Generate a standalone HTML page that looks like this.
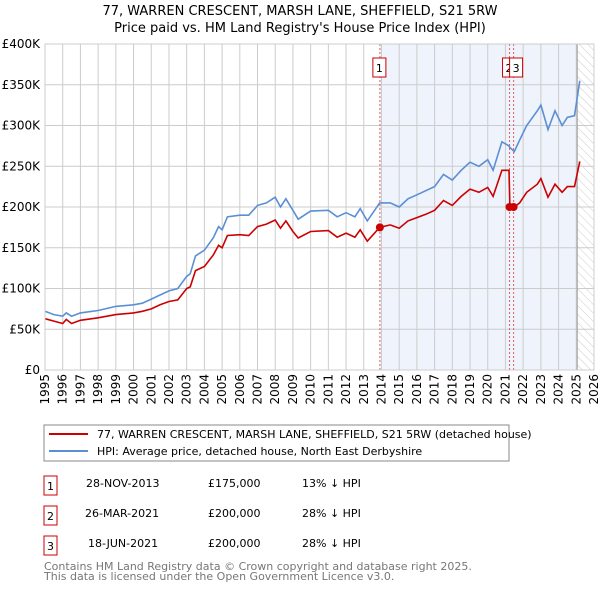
<!DOCTYPE html>
<html><head><meta charset="utf-8"><style>
body{margin:0;background:#fff;font-family:"DejaVu Sans","Liberation Sans",sans-serif;}
svg text{font-family:"DejaVu Sans","Liberation Sans",sans-serif;}
</style></head><body>
<svg id="chart" width="600" height="590" viewBox="0 0 600 590" xmlns="http://www.w3.org/2000/svg">
<defs><pattern id="hatch" width="6" height="6" patternUnits="userSpaceOnUse" patternTransform="rotate(-45)"><line x1="0" y1="0" x2="0" y2="6" stroke="#ccc" stroke-width="1"/></pattern></defs>
<text x="300" y="15" text-anchor="middle" font-size="13">77, WARREN CRESCENT, MARSH LANE, SHEFFIELD, S21 5RW</text>
<text x="300" y="32" text-anchor="middle" font-size="13">Price paid vs. HM Land Registry's House Price Index (HPI)</text>
<g id="plot"></g>
<rect x="44" y="425" width="465" height="36" fill="#fff" stroke="#888"/>
<line x1="49" y1="434" x2="88" y2="434" stroke="#cc0000" stroke-width="2"/>
<text x="97" y="438" font-size="11">77, WARREN CRESCENT, MARSH LANE, SHEFFIELD, S21 5RW (detached house)</text>
<line x1="49" y1="451" x2="88" y2="451" stroke="#5b8fd4" stroke-width="2"/>
<text x="97" y="455" font-size="11">HPI: Average price, detached house, North East Derbyshire</text>
<g font-size="11">
<rect x="44" y="476" width="13" height="19" fill="none" stroke="#cc0000"/><text x="50.5" y="490" text-anchor="middle">1</text>
<text x="86" y="487">28-NOV-2013</text><text x="208" y="487">£175,000</text><text x="302" y="487">13% ↓ HPI</text>
<rect x="44" y="506" width="13" height="19" fill="none" stroke="#cc0000"/><text x="50.5" y="520" text-anchor="middle">2</text>
<text x="85" y="517">26-MAR-2021</text><text x="208" y="517">£200,000</text><text x="302" y="517">28% ↓ HPI</text>
<rect x="44" y="536" width="13" height="19" fill="none" stroke="#cc0000"/><text x="50.5" y="550" text-anchor="middle">3</text>
<text x="88" y="547">18-JUN-2021</text><text x="208" y="547">£200,000</text><text x="302" y="547">28% ↓ HPI</text>
</g>
<text x="44" y="570" font-size="11" fill="#777">Contains HM Land Registry data © Crown copyright and database right 2025.</text>
<text x="44" y="580" font-size="11" fill="#777">This data is licensed under the Open Government Licence v3.0.</text>
</svg>
<script>
const dates=[1995.0,1995.5,1996.0,1996.2,1996.5,1997.0,1998.0,1999.0,2000.0,2000.5,2001.0,2001.5,2002.0,2002.5,2003.0,2003.2,2003.5,2004.0,2004.5,2004.8,2005.0,2005.3,2006.0,2006.5,2007.0,2007.5,2008.0,2008.3,2008.6,2009.0,2009.3,2010.0,2011.0,2011.5,2012.0,2012.5,2012.8,2013.2,2013.9,2014.5,2015.0,2015.5,2016.0,2016.5,2017.0,2017.5,2018.0,2018.5,2019.0,2019.5,2020.0,2020.3,2020.8,2021.2,2021.25,2021.5,2021.8,2022.2,2022.8,2023.0,2023.4,2023.8,2024.2,2024.5,2024.9,2025.2];
const hpi=[72,68,66,70,66,70,73,78,80,82,87,92,97,100,115,118,140,147,162,176,172,188,190,190,202,205,212,200,210,196,185,195,196,188,193,188,198,183,205,205,200,210,215,220,225,240,233,245,255,250,258,245,280,275,273,268,282,300,318,325,295,318,300,310,312,355];
const price=[63,60,57,62,57,61,64,68,70,72,75,80,84,86,100,102,122,127,141,153,150,165,166,165,176,179,184,174,183,170,162,170,171,163,168,163,172,158,175,178,174,183,187,191,196,208,202,213,222,218,224,213,245,245,200,200,205,218,228,235,212,228,218,225,225,256];
const saleDates=[2013.91,2021.23,2021.46];
const saleValues=[175,200,200];
const saleLabels=["1","2","3"];
const yTicks=[0,50,100,150,200,250,300,350,400];
const yTickLabels=["£0","£50K","£100K","£150K","£200K","£250K","£300K","£350K","£400K"];
const xTicks=[1995,1996,1997,1998,1999,2000,2001,2002,2003,2004,2005,2006,2007,2008,2009,2010,2011,2012,2013,2014,2015,2016,2017,2018,2019,2020,2021,2022,2023,2024,2025,2026];
const X0=45,X1=594,Y0=370,Y1=44;
function xs(d){return X0+(d-1995)/(2026-1995)*(X1-X0);}
function ys(v){return Y0-v/400*(Y0-Y1);}
const NS="http://www.w3.org/2000/svg";
const g=document.getElementById('plot');
function mk(t,a,p){const e=document.createElementNS(NS,t);for(const k in a)e.setAttribute(k,a[k]);(p||g).appendChild(e);return e;}
let e;
e=mk('rect',{x:xs(saleDates[0]),y:Y1,width:xs(2025.05)-xs(saleDates[0]),height:Y0-Y1,fill:'#eef3fc'});


e=mk('rect',{x:xs(2025.05),y:Y1,width:X1-xs(2025.05),height:Y0-Y1,fill:'url(#hatch)'});


yTicks.forEach((v,i)=>{
 e=mk('line',{x1:X0,x2:X1,y1:ys(v),y2:ys(v),stroke:'#ccc'});
 
 
 e=mk('text',{x:40,y:ys(v)+4,'text-anchor':'end','font-size':12});
 e.textContent=yTickLabels[i];
 
 
});
xTicks.forEach(d=>{
 e=mk('line',{x1:xs(d),x2:xs(d),y1:Y1,y2:Y0,stroke:'#ccc'});
 
 
 const tx=xs(d)+4,ty=374;
 e=mk('text',{x:tx,y:ty,'text-anchor':'end','font-size':12,transform:'rotate(-90 '+tx+' '+ty+')'});
 e.textContent=d;
 
 
});
e=mk('line',{x1:xs(2025.05),x2:xs(2025.05),y1:Y1,y2:Y0,stroke:'#999'});


saleDates.forEach((d,i)=>{
 e=mk('line',{x1:xs(d),x2:xs(d),y1:Y1,y2:Y0,stroke:'#e06060','stroke-dasharray':'2,2'});
 
 
});
function path(arr){return arr.map((v,i)=>(i?'L':'M')+xs(dates[i]).toFixed(1)+','+ys(v).toFixed(1)).join('');}
e=mk('path',{d:path(hpi),fill:'none',stroke:'#5b8fd4','stroke-width':1.6});


e=mk('path',{d:path(price),fill:'none',stroke:'#cc0000','stroke-width':1.6});


saleDates.forEach((d,i)=>{
 e=mk('circle',{cx:xs(d),cy:ys(saleValues[i]),r:4,fill:'#cc0000'});
 
 
});
saleDates.forEach((d,i)=>{
 const bx=i==2?xs(d)-4:xs(d)-7;
 e=mk('rect',{x:bx,y:58,width:13,height:19,fill:'#fff',stroke:'#cc0000'});
 
 
 e=mk('text',{x:bx+6.5,y:72,'text-anchor':'middle','font-size':11});
 e.textContent=saleLabels[i];
 
 
});
e=mk('rect',{x:X0,y:Y1,width:X1-X0,height:Y0-Y1,fill:'none',stroke:'#ccc'});


</script>
</body></html>
